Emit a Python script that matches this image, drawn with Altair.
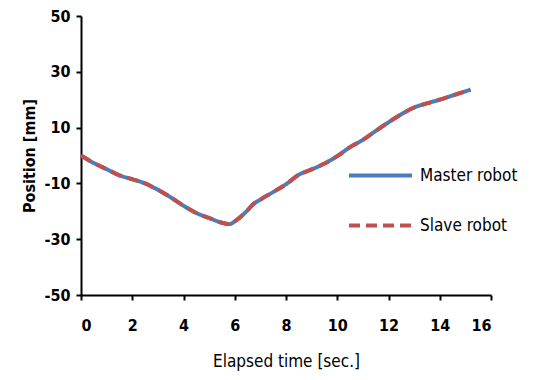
import altair as alt
import pandas as pd

time = [0, 0.5, 1, 1.5, 2, 2.5, 3, 3.5, 4, 4.5, 5, 5.5, 5.8, 6, 6.5, 6.7, 7, 7.5, 8, 8.5, 9, 9.5,
        10, 10.5, 11, 11.5, 12, 12.5, 13, 13.5, 14, 14.5, 15, 15.2]
master = [0, -2.7, -4.9, -7.1, -8.5, -10.0, -12.3, -15.0, -18.0, -20.6, -22.4, -24.1, -24.6, -23.6,
          -19.6, -17.6, -15.8, -13.1, -10.3, -6.9, -5.0, -2.9, -0.2, 3.0, 5.6, 8.8, 11.9, 14.8,
          17.2, 18.7, 20.0, 21.5, 23.0, 23.6]
slave = [0, -2.7, -4.9, -7.1, -8.5, -10.0, -12.3, -15.0, -18.0, -20.6, -22.4, -24.1, -24.6, -23.6,
         -19.6, -17.6, -15.8, -13.1, -10.3, -6.9, -5.0, -2.9, -0.2, 3.0, 5.6, 8.8, 11.9, 14.8,
         17.2, 18.7, 20.0, 21.5, 23.0, 23.6]
series = ["Master robot", "Slave robot"]
colors = ["#4A7EBB", "#C0504D"]
x_ticks = [0, 2, 4, 6, 8, 10, 12, 14, 16]
y_ticks = [-50, -30, -10, 10, 30, 50]

rows = []
for t, m in zip(time, master):
    rows.append({"t": t, "pos": m, "series": series[0], "order": 0})
for t, s in zip(time, slave):
    rows.append({"t": t, "pos": s, "series": series[1], "order": 1})
df = pd.DataFrame(rows)

FONT = "Liberation Sans Narrow, DejaVu Sans Condensed, Liberation Sans"

chart = alt.Chart(df).mark_line(strokeWidth=4, interpolate="monotone").encode(
    x=alt.X("t:Q", title="Elapsed time [sec.]",
            scale=alt.Scale(domain=[0, 16], nice=False, zero=False),
            axis=alt.Axis(values=x_ticks, grid=False, titleFontWeight="normal", labelFontWeight="bold",
                          titlePadding=20, labelPadding=17, labelExpr="datum.value + ''",
                          titleFontSize=17)),
    y=alt.Y("pos:Q", title="Position [mm]",
            scale=alt.Scale(domain=[-50, 50], nice=False),
            axis=alt.Axis(values=y_ticks, grid=False, titleFontWeight="bold", labelFontWeight="bold",
                          titlePadding=6, labelPadding=6, labelExpr="datum.value + ''")),
    color=alt.Color("series:N", scale=alt.Scale(domain=series, range=colors), title=None),
    strokeDash=alt.StrokeDash("series:N", scale=alt.Scale(domain=series, range=[[1, 0], [11, 6]]), title=None),
    order="order:Q",
    detail="series:N",
).properties(
    width=410, height=279,
    autosize=alt.AutoSizeParams(type="none"),
    padding={"left": 73, "top": 8, "right": 35, "bottom": 78},
).configure_view(stroke=None).configure_axis(
    domainColor="black", domainWidth=2, tickColor="black", tickWidth=2, tickSize=5,
    labelFont=FONT, titleFont=FONT, labelFontSize=16, titleFontSize=16,
    labelColor="black", titleColor="black",
).configure_legend(
    orient="none", legendX=266, legendY=126, symbolType="stroke", symbolSize=3969,
    symbolStrokeWidth=4, labelFont=FONT, labelFontSize=17, labelColor="black",
    rowPadding=8, labelOffset=6,
)

chart.save("out.html", embed_options={"renderer": "svg", "actions": False})
